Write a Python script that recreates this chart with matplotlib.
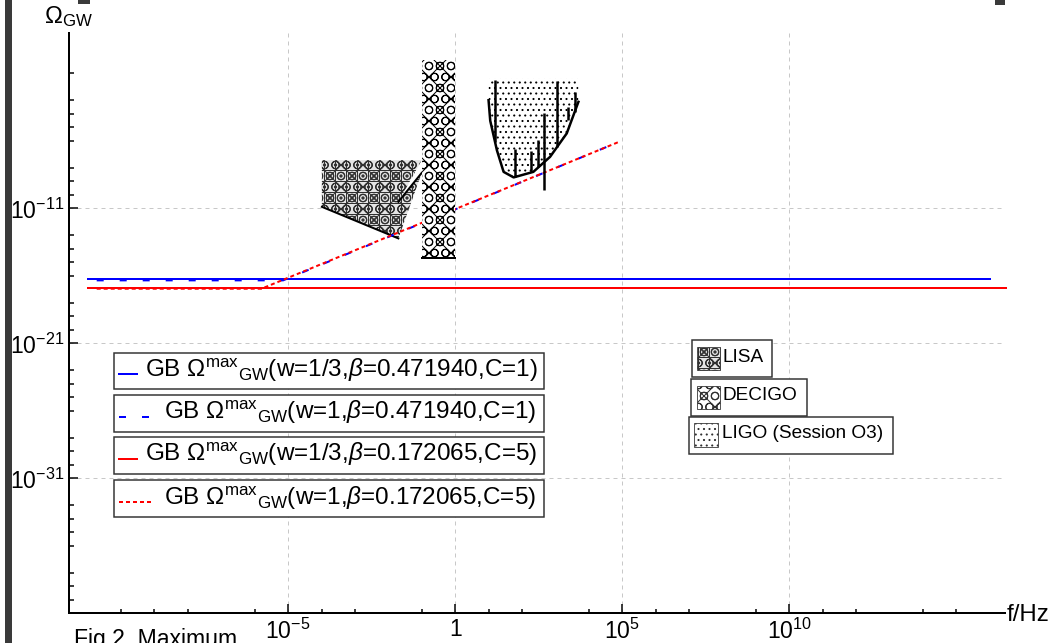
import numpy as np
import matplotlib.pyplot as plt
from matplotlib.patches import Polygon, Rectangle
from matplotlib.ticker import FixedLocator, NullFormatter

DPI = 66
W, H = 1058, 643


def px(v):
    # pixels -> points (figure works at DPI, hatch cell = DPI/6 px)
    return v * 72.0 / DPI


plt.rcParams['font.family'] = ['Liberation Sans', 'DejaVu Sans']
plt.rcParams['mathtext.fontset'] = 'custom'
plt.rcParams['mathtext.rm'] = 'Liberation Sans'
plt.rcParams['mathtext.it'] = 'Liberation Sans:italic'
plt.rcParams['mathtext.bf'] = 'Liberation Sans:bold'
plt.rcParams['lines.scale_dashes'] = False
plt.rcParams['hatch.linewidth'] = px(1.0)
plt.rcParams['hatch.color'] = 'black'

# ---- data, all as log10 values ----
# GB maximum spectra: log10(f/Hz) and log10(Omega_GW)
gb1_logf = [-11.0, 16.0]              # w=1/3, beta=0.471940, C=1
gb1_logo = [-16.26, -16.26]
gb2_logf = [-10.73, -5.15, 4.92]      # w=1, beta=0.471940, C=1
gb2_logo = [-16.33, -16.33, -6.05]
gb3_logf = [-11.0, 16.5]              # w=1/3, beta=0.172065, C=5
gb3_logo = [-16.88, -16.88]
gb4_logf = [-10.73, -5.8, 4.92]       # w=1, beta=0.172065, C=5
gb4_logo = [-16.95, -16.95, -6.05]

gb_labels = [
    r'GB $\Omega^{\mathrm{max}}{}_{\mathrm{GW}}$(w=1/3,$\beta$=0.471940,C=1)',
    r'GB $\Omega^{\mathrm{max}}{}_{\mathrm{GW}}$(w=1,$\beta$=0.471940,C=1)',
    r'GB $\Omega^{\mathrm{max}}{}_{\mathrm{GW}}$(w=1/3,$\beta$=0.172065,C=5)',
    r'GB $\Omega^{\mathrm{max}}{}_{\mathrm{GW}}$(w=1,$\beta$=0.172065,C=5)',
]

# LISA region
lisa_top = -7.42
lisa_low_logf = [-3.99, -1.70]
lisa_low_logo = [-10.88, -13.22]
lisa_high_logf = [-1.70, -1.0]
lisa_high_logo = [-10.51, -8.36]

# DECIGO band
decigo_logf = [-1.0, 0.0]
decigo_logo = [-14.7, 0.0]

# LIGO O3 curve
ligo_top = -1.35
ligo_logf = [1.0, 1.05, 1.25, 1.45, 1.75, 2.34, 2.84, 3.34, 3.69]
ligo_logo = [-2.98, -4.5, -6.69, -8.29, -8.70, -8.29, -7.18, -5.44, -3.10]
spike_logf = [1.2, 1.80, 2.27, 2.49, 2.67, 3.04, 3.39, 3.59]
spike_top = [-1.49, -6.56, -6.76, -5.94, -3.92, -1.54, -3.47, -2.36]
spike_bot = [-6.07, -8.68, -8.31, -7.94, -9.64, -6.44, -4.46, -3.84]

det_labels = ['LISA', 'DECIGO', 'LIGO (Session O3)']
det_hatch = ['+xO.', 'xO', '..']
det_face = ['#e4e4e4', 'white', 'white']

x_major = [-5, 0, 5, 10]
x_major_lab = [r'$10^{-5}$', '1', r'$10^{5}$', r'$10^{10}$']
y_major = [-11, -21, -31]
y_major_lab = [r'$10^{-11}$', r'$10^{-21}$', r'$10^{-31}$']


def e(v):
    return 10.0 ** np.asarray(v, dtype=float)


fig = plt.figure(figsize=(W / DPI, H / DPI), dpi=DPI)
ax = fig.add_axes([69.3 / W, (H - 613.3) / H, 935.4 / W, 580.3 / H])
ax.set_xscale('log')
ax.set_yscale('log')
ax.set_xlim(10 ** -11.55, 10 ** 16.45)
ax.set_ylim(10 ** -41, 10 ** 2)

for s in ['top', 'right']:
    ax.spines[s].set_visible(False)
for s in ['left', 'bottom']:
    ax.spines[s].set_linewidth(px(2))

ax.xaxis.set_major_locator(FixedLocator(e(x_major)))
ax.set_xticklabels(x_major_lab)
ax.yaxis.set_major_locator(FixedLocator(e(y_major)))
ax.set_yticklabels(y_major_lab)
x_minor = [n for n in range(-10, 16) if n % 5 != 3 and n not in x_major]
y_minor = [n for n in range(-40, 0) if n % 5 != 3 and n not in y_major]
ax.xaxis.set_minor_locator(FixedLocator(e(x_minor)))
ax.yaxis.set_minor_locator(FixedLocator(e(y_minor)))
ax.xaxis.set_minor_formatter(NullFormatter())
ax.yaxis.set_minor_formatter(NullFormatter())
ax.tick_params(which='both', direction='in', width=px(1.5), labelsize=px(23), pad=px(5))
ax.tick_params(which='major', length=px(9))
ax.tick_params(which='minor', length=px(4.5))
ax.grid(True, which='major', color='#c8c8c8', lw=px(1), ls=(0, (px(4), px(4))))
ax.set_axisbelow(True)

# LISA
lx = lisa_low_logf + lisa_high_logf[::-1] + [lisa_high_logf[-1], lisa_low_logf[0]]
ly = lisa_low_logo + lisa_high_logo[::-1] + [lisa_top, lisa_top]
ax.add_patch(Polygon(np.column_stack([e(lx), e(ly)]), closed=True, facecolor=det_face[0],
                     edgecolor='#303030', lw=0, hatch=det_hatch[0], zorder=1.5))
ax.plot(e(lisa_low_logf), e(lisa_low_logo), color='black', lw=px(2), zorder=1.6)
ax.plot(e(lisa_high_logf), e(lisa_high_logo), color='black', lw=px(2), zorder=1.6)

# GB curves
ax.plot(e(gb1_logf), e(gb1_logo), color='#0000ff', lw=px(2), clip_on=False, zorder=2)
ax.plot(e(gb3_logf), e(gb3_logo), color='#ff0000', lw=px(2), clip_on=False, zorder=2)
ax.plot(e(gb2_logf), e(gb2_logo), color='#0000ff', lw=px(2),
        ls=(0, (px(7), px(16))), zorder=2.1)
ax.plot(e(gb4_logf), e(gb4_logo), color='#ff0000', lw=px(2),
        ls=(0, (px(4), px(3))), zorder=2.2)

# DECIGO
ax.fill_between(e(decigo_logf), e(decigo_logo[0]), e(decigo_logo[1]), facecolor=det_face[1],
                edgecolor='black', lw=0, hatch=det_hatch[1], zorder=3)
ax.plot(e(decigo_logf), e([decigo_logo[0]] * 2), color='black', lw=px(2), zorder=3.1)

# LIGO
gx = ligo_logf + [ligo_logf[-1], ligo_logf[0]]
gy = ligo_logo + [ligo_top, ligo_top]
ax.add_patch(Polygon(np.column_stack([e(gx), e(gy)]), closed=True, facecolor=det_face[2],
                     edgecolor='black', lw=0, hatch=det_hatch[2], zorder=3))
ax.plot(e(ligo_logf), e(ligo_logo), color='black', lw=px(2.5), zorder=3.1)
ax.vlines(e(spike_logf), e(spike_bot), e(spike_top), color='black', lw=px(2.5), zorder=3.1)

# ---- overlay in pixel coordinates: legends, labels, frame bits ----
ov = fig.add_axes([0, 0, 1, 1], zorder=5)
ov.set_xlim(0, W)
ov.set_ylim(H, 0)
ov.axis('off')

ov.text(44, 23, r'$\Omega_{\mathrm{GW}}$', fontsize=px(24), va='baseline')
ov.text(1007, 621, 'f/Hz', fontsize=px(24), va='baseline')
ov.text(74, 628, 'Fig.2. Maximum', fontsize=px(23), va='top')

ov.add_patch(Rectangle((5, 0), 6.5, H, color='#3a3a3a', lw=0))
ov.add_patch(Rectangle((78, 0), 12, 4, color='#3a3a3a', lw=0))
ov.add_patch(Rectangle((995, 0), 10, 5, color='#3a3a3a', lw=0))

# GB legend boxes
box_tops = [352.7, 395, 437, 480]
gb_styles = [('#0000ff', '-'), ('#0000ff', (0, (px(7), px(16)))),
             ('#ff0000', '-'), ('#ff0000', (0, (px(4), px(3))))]
for i, (top, lab, (c, ls)) in enumerate(zip(box_tops, gb_labels, gb_styles)):
    ov.add_patch(Rectangle((114, top), 430, 36.5, facecolor='white',
                           edgecolor='#333333', lw=px(1.5)))
    x1 = 137 if ls == '-' else 152
    ov.plot([119, x1], [top + 21.5, top + 21.5], color=c, lw=px(2), ls=ls)
    tx = 145 if ls == '-' else 164
    ov.text(tx, top + 24.5, lab, fontsize=px(24.3), va='baseline')

# detector legend boxes
det_boxes = [(691.7, 340, 80, 36.7), (691, 379, 115.7, 37), (689, 417, 203.7, 37)]
det_handles = [(697, 347, 23), (697, 386, 23), (694, 423, 24)]
det_text = [(723, 361.7), (723, 400), (721.7, 438.3)]
for b, hnd, t, lab, hat, fc in zip(det_boxes, det_handles, det_text, det_labels,
                                   det_hatch, det_face):
    ov.add_patch(Rectangle(b[:2], b[2], b[3], facecolor='white',
                           edgecolor='#333333', lw=px(1.5)))
    ov.add_patch(Rectangle(hnd[:2], hnd[2], hnd[2], facecolor=fc,
                           edgecolor='#303030', lw=px(0.8), hatch=hat))
    ov.text(t[0], t[1], lab, fontsize=px(19), va='baseline')

fig.savefig('out.png', dpi=DPI, facecolor='white')
